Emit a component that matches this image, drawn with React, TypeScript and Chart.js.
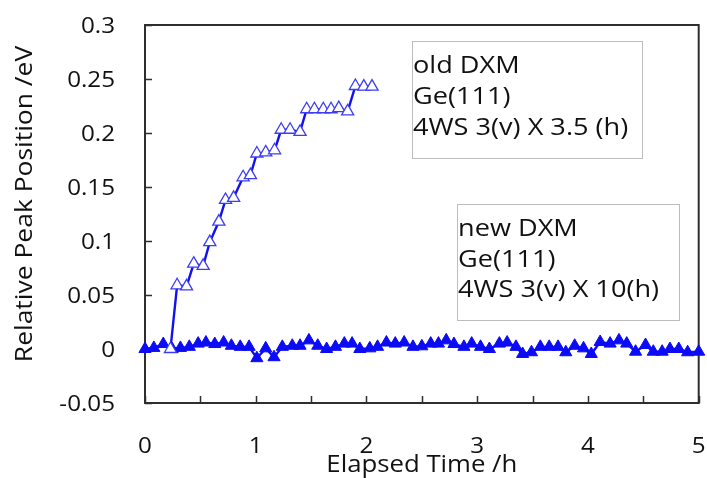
import { useEffect, useRef } from 'react';
import { Chart, registerables } from 'chart.js';

Chart.register(...registerables);

// old DXM, Ge(111), 4WS 3(v) x 3.5(h)
const oldTime = [0.23, 0.29, 0.375, 0.44, 0.525, 0.585, 0.667, 0.727, 0.8, 0.886, 0.952, 1.01, 1.09, 1.17, 1.23, 1.31, 1.4, 1.46, 1.53, 1.61, 1.68, 1.75, 1.83, 1.9, 1.976, 2.05];
const oldShift = [0, 0.059, 0.058, 0.079, 0.077, 0.099, 0.118, 0.138, 0.14, 0.159, 0.161, 0.181, 0.182, 0.184, 0.203, 0.203, 0.201, 0.222, 0.222, 0.222, 0.222, 0.223, 0.22, 0.2435, 0.243, 0.243];

// new DXM, Ge(111), 4WS 3(v) x 10(h)
const newTime = [0, 0.08, 0.165, 0.245, 0.32, 0.4, 0.48, 0.55, 0.63, 0.71, 0.78, 0.86, 0.94, 1.01, 1.09, 1.165, 1.24, 1.33, 1.4, 1.48, 1.56, 1.64, 1.72, 1.8, 1.87, 1.94, 2.03, 2.1, 2.18, 2.26, 2.34, 2.42, 2.5, 2.58, 2.65, 2.72, 2.79, 2.88, 2.95, 3.03, 3.11, 3.2, 3.27, 3.35, 3.41, 3.49, 3.57, 3.65, 3.73, 3.8, 3.88, 3.96, 4.03, 4.11, 4.2, 4.28, 4.35, 4.43, 4.52, 4.59, 4.67, 4.74, 4.82, 4.9, 5.0];
const newShift = [0, 0.001, 0.0046, 0, 0.001, 0.002, 0.005, 0.006, 0.0046, 0.006, 0.003, 0.002, 0.002, -0.0085, 0.0006, -0.0076, 0.002, 0.003, 0.003, 0.008, 0.003, 0, 0.002, 0.005, 0.005, 0, 0.0006, 0.002, 0.006, 0.005, 0.006, 0.002, 0.0025, 0.005, 0.005, 0.008, 0.0046, 0.002, 0.005, 0.002, 0, 0.005, 0.006, 0.002, -0.0046, -0.003, 0.002, 0.002, 0.002, -0.003, 0.003, 0.0006, -0.0046, 0.0065, 0.005, 0.008, 0.005, -0.0025, 0.0037, -0.0025, -0.0025, 0, 0, -0.003, -0.0025];

const yTickValues = [-0.05, 0, 0.05, 0.1, 0.15, 0.2, 0.25, 0.3];
const yTickLabels = ['-0.05', '0', '0.05', '0.1', '0.15', '0.2', '0.25', '0.3'];
const xTickValues = [0, 1, 2, 3, 4, 5];
const xTickLabels = ['0', '1', '2', '3', '4', '5'];
const xMinorStep = 0.5;

const oldLegend = ['old DXM', 'Ge(111)', '4WS 3(v) X 3.5 (h)'];
const newLegend = ['new DXM', 'Ge(111)', '4WS 3(v) X 10(h)'];

const FAMILY = '"Open Sans", sans-serif';
const TEXT_COLOR = '#111111';

function drawLabel(
  ctx: CanvasRenderingContext2D,
  s: string,
  x: number,
  y: number,
  align: CanvasTextAlign,
  size: number,
  stretch: number,
  rotate = 0,
) {
  ctx.save();
  ctx.translate(x, y);
  if (rotate) ctx.rotate(rotate);
  ctx.scale(stretch, 1);
  ctx.font = `${size}px ${FAMILY}`;
  ctx.fillStyle = TEXT_COLOR;
  ctx.textAlign = align;
  ctx.textBaseline = 'alphabetic';
  ctx.fillText(s, 0, 0);
  ctx.restore();
}

const framePlugin = {
  id: 'frameAndText',
  beforeDatasetsDraw(chart: any) {
    const { ctx, chartArea: a, scales } = chart;
    const xs = scales.x;
    const ys = scales.y;
    ctx.save();
    ctx.strokeStyle = '#2e2e2e';
    ctx.lineWidth = 2;
    ctx.strokeRect(a.left, a.top, a.right - a.left, a.bottom - a.top);
    ctx.lineWidth = 1.5;
    ctx.beginPath();
    yTickValues.forEach((v) => {
      const py = Math.round(ys.getPixelForValue(v)) + 0.5;
      ctx.moveTo(a.left, py);
      ctx.lineTo(a.left + 7, py);
    });
    for (let v = xs.min; v <= xs.max + 1e-9; v += xMinorStep) {
      const px = Math.round(xs.getPixelForValue(v)) + 0.5;
      ctx.moveTo(px, a.bottom);
      ctx.lineTo(px, a.bottom - 7);
    }
    ctx.stroke();
    ctx.restore();
  },
  afterDraw(chart: any) {
    const { ctx, chartArea: a, scales } = chart;
    const xs = scales.x;
    const ys = scales.y;
    yTickValues.forEach((v, i) => {
      drawLabel(ctx, yTickLabels[i], a.left - 30, ys.getPixelForValue(v) + 8, 'right', 22, 1.1);
    });
    xTickValues.forEach((v, i) => {
      drawLabel(ctx, xTickLabels[i], xs.getPixelForValue(v), 453, 'center', 22, 1.1);
    });
    drawLabel(ctx, 'Elapsed Time /h', (a.left + a.right) / 2, 472, 'center', 23, 1.12);
    drawLabel(ctx, 'Relative Peak Position /eV', 32, 204, 'center', 23, 1.15, -Math.PI / 2);

    ctx.save();
    ctx.strokeStyle = '#bdbdbd';
    ctx.lineWidth = 1;
    ctx.strokeRect(412.5, 41.5, 230, 117);
    ctx.strokeRect(457.5, 204.5, 222, 116);
    ctx.restore();
    oldLegend.forEach((s, i) => drawLabel(ctx, s, 413, 73 + i * 31, 'left', 23, 1.18));
    newLegend.forEach((s, i) => drawLabel(ctx, s, 458, 236 + i * 30.5, 'left', 23, 1.18));
  },
};

export default function App() {
  const ref = useRef<HTMLCanvasElement>(null);
  useEffect(() => {
    if (!ref.current) return;
    const chart = new Chart(ref.current, {
      type: 'line',
      data: {
        datasets: [
          {
            label: 'old DXM',
            data: oldTime.map((t, i) => ({ x: t, y: oldShift[i] })),
            borderColor: '#1010f0',
            borderWidth: 2.4,
            pointStyle: 'triangle',
            pointRadius: 7,
            pointBackgroundColor: '#ffffff',
            pointBorderColor: '#3c3cf5',
            pointBorderWidth: 1.3,
            clip: false as any,
          },
          {
            label: 'new DXM',
            data: newTime.map((t, i) => ({ x: t, y: newShift[i] })),
            borderColor: '#0b0bf5',
            borderWidth: 2.4,
            pointStyle: 'triangle',
            pointRadius: 7,
            pointBackgroundColor: '#0b0bf5',
            pointBorderColor: '#0b0bf5',
            pointBorderWidth: 1,
            clip: false as any,
          },
        ],
      },
      options: {
        responsive: false,
        animation: false,
        events: [],
        layout: { padding: { left: 145, top: 25, right: 7, bottom: 75 } },
        plugins: { legend: { display: false }, tooltip: { enabled: false } },
        scales: {
          x: { type: 'linear', min: 0, max: 5, display: false },
          y: { type: 'linear', min: -0.05, max: 0.3, display: false },
        },
      },
      plugins: [framePlugin],
    });
    return () => chart.destroy();
  }, []);
  return (
    <div style={{ position: 'fixed', left: 0, top: 0, width: 707, height: 478, background: '#fff' }}>
      <canvas ref={ref} width={707} height={478} style={{ display: 'block' }} />
    </div>
  );
}
